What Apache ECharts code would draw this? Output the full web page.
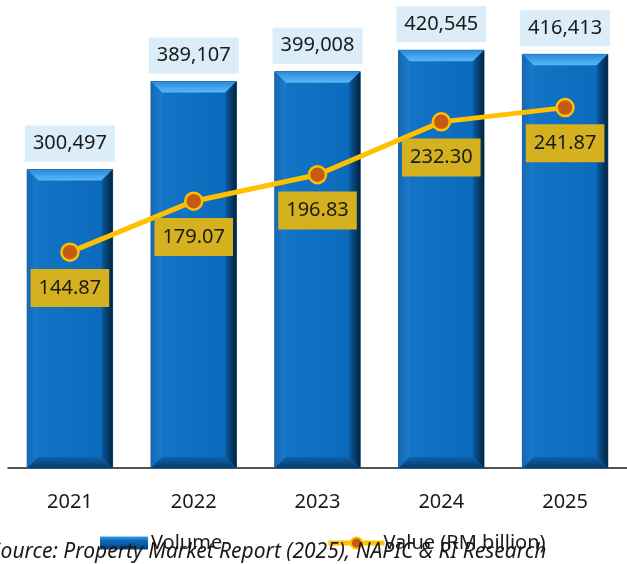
<!DOCTYPE html>
<html>
<head>
<meta charset="utf-8">
<title>Property transactions 2021-2025</title>
<script src="https://cdn.jsdelivr.net/npm/echarts@6/dist/echarts.min.js"></script>
<style>
  html, body { margin: 0; padding: 0; background: #ffffff; }
  #chart { width: 627px; height: 564px; }
</style>
</head>
<body>
<div id="chart"></div>
<script>
// Transaction data
const years = ['2021', '2022', '2023', '2024', '2025'];
const volume = [300497, 389107, 399008, 420545, 416413];
const valueRM = [144.87, 179.07, 196.83, 232.30, 241.87];

const FONT = '"Noto Sans", "Open Sans", sans-serif';

const chart = echarts.init(document.getElementById('chart'), null, { renderer: 'canvas' });

// Bevelled bar: a flat face with four shaded edge trapezoids and a value tag on top
function renderBevelBar(params, api) {
  const idx = api.value(0);
  const val = api.value(1);
  const top = api.coord([idx, val]);
  const base = api.coord([idx, 0]);
  const w = api.size([1, 0])[0] * 0.69;
  const x0 = top[0] - w / 2, x1 = top[0] + w / 2;
  const y0 = top[1], y1 = base[1];
  const b = 11;
  const grad = (x1_, y1_, x2_, y2_, c1, c2) =>
    new echarts.graphic.LinearGradient(x1_, y1_, x2_, y2_, [{ offset: 0, color: c1 }, { offset: 1, color: c2 }]);
  return {
    type: 'group',
    children: [
      { type: 'rect', shape: { x: x0, y: y0, width: w, height: y1 - y0 },
        style: { fill: grad(0, 0, 1, 0, '#1476c8', '#0a68ba'), stroke: '#2b5c8c', lineWidth: 1 } },
      { type: 'polygon', shape: { points: [[x0, y0], [x1, y0], [x1 - b, y0 + b], [x0 + b, y0 + b]] },
        style: { fill: grad(0, 0, 0, 1, '#2a8ade', '#5ab8f6') } },
      { type: 'polygon', shape: { points: [[x0, y0], [x0 + b, y0 + b], [x0 + b, y1 - b], [x0, y1]] },
        style: { fill: grad(0, 0, 1, 0, '#1468b4', '#1a7ccc') } },
      { type: 'polygon', shape: { points: [[x1, y0], [x1, y1], [x1 - b, y1 - b], [x1 - b, y0 + b]] },
        style: { fill: grad(0, 0, 1, 0, '#0a5aa2', '#01243f') } },
      { type: 'polygon', shape: { points: [[x0, y1], [x0 + b, y1 - b], [x1 - b, y1 - b], [x1, y1]] },
        style: { fill: grad(0, 0, 0, 1, '#0c62ac', '#063c6e') } },
      { type: 'text', x: top[0], y: y0 - 8,
        style: {
          text: val.toLocaleString('en-US'), font: '20px ' + FONT, fill: '#1a1a1a',
          align: 'center', verticalAlign: 'bottom',
          backgroundColor: '#daedf8', padding: [6, 8, 6, 8], lineHeight: 24
        } }
    ]
  };
}

const option = {
  backgroundColor: '#ffffff',
  animation: false,
  textStyle: { fontFamily: FONT },
  grid: { left: 8, right: -2, top: 21, bottom: 96, containLabel: false },
  xAxis: {
    type: 'category',
    data: years,
    axisLine: { lineStyle: { color: '#1a1a1a', width: 1.5 } },
    axisTick: { inside: true, length: 7, lineStyle: { color: '#1a1a1a', width: 1.5 } },
    axisLabel: { fontSize: 20, color: '#1a1a1a', margin: 24, fontFamily: FONT }
  },
  yAxis: [
    { type: 'value', min: 0, max: 450000, show: false, splitLine: { show: false } },
    { type: 'value', min: 0, max: 300, show: false, splitLine: { show: false } }
  ],
  legend: [
    {
      data: [{ name: 'Volume', icon: 'rect',
        itemStyle: { color: new echarts.graphic.LinearGradient(0, 0, 0, 1, [
          { offset: 0, color: '#3f9ee8' }, { offset: 0.3, color: '#0a6cc0' }, { offset: 1, color: '#06427a' }]) } }],
      left: 95, top: 528, itemWidth: 48, itemHeight: 13, itemGap: 4,
      textStyle: { fontSize: 20, color: '#1a1a1a', fontFamily: FONT, padding: [0, 0, 0, -2] },
      selectedMode: false
    },
    {
      data: ['Value (RM billion)'],
      left: 321, top: 528, itemWidth: 56, itemHeight: 14, itemGap: 4,
      lineStyle: { width: 5, color: '#ffc000' },
      itemStyle: { color: '#c55a11', borderColor: '#ffc000', borderWidth: 2 },
      textStyle: { fontSize: 20, color: '#1a1a1a', fontFamily: FONT, padding: [0, 0, 0, -6] },
      selectedMode: false
    }
  ],
  graphic: [
    {
      type: 'text', x: -10, y: 552, z: 10,
      style: {
        text: 'Source: Property Market Report (2025), NAPIC & RI Research',
        font: 'italic 21px ' + FONT, fill: '#1a1a1a', verticalAlign: 'middle'
      }
    }
  ],
  series: [
    {
      name: 'Volume',
      type: 'custom',
      yAxisIndex: 0,
      renderItem: renderBevelBar,
      encode: { x: 0, y: 1 },
      data: volume.map((v, i) => [i, v]),
      z: 2
    },
    {
      name: 'Value (RM billion)',
      type: 'line',
      yAxisIndex: 1,
      data: valueRM,
      z: 5,
      lineStyle: { color: '#ffc000', width: 5 },
      itemStyle: { color: '#c55a11', borderColor: '#ffc000', borderWidth: 2.5 },
      symbol: 'circle',
      symbolSize: 17,
      label: {
        show: true, position: 'bottom', distance: 7,
        formatter: p => p.value.toFixed(2),
        fontSize: 20, color: '#1a1a1a', fontFamily: FONT,
        backgroundColor: '#d5b11f', padding: [7, 8, 7, 8], lineHeight: 24
      }
    }
  ]
};

chart.setOption(option);
</script>
</body>
</html>
